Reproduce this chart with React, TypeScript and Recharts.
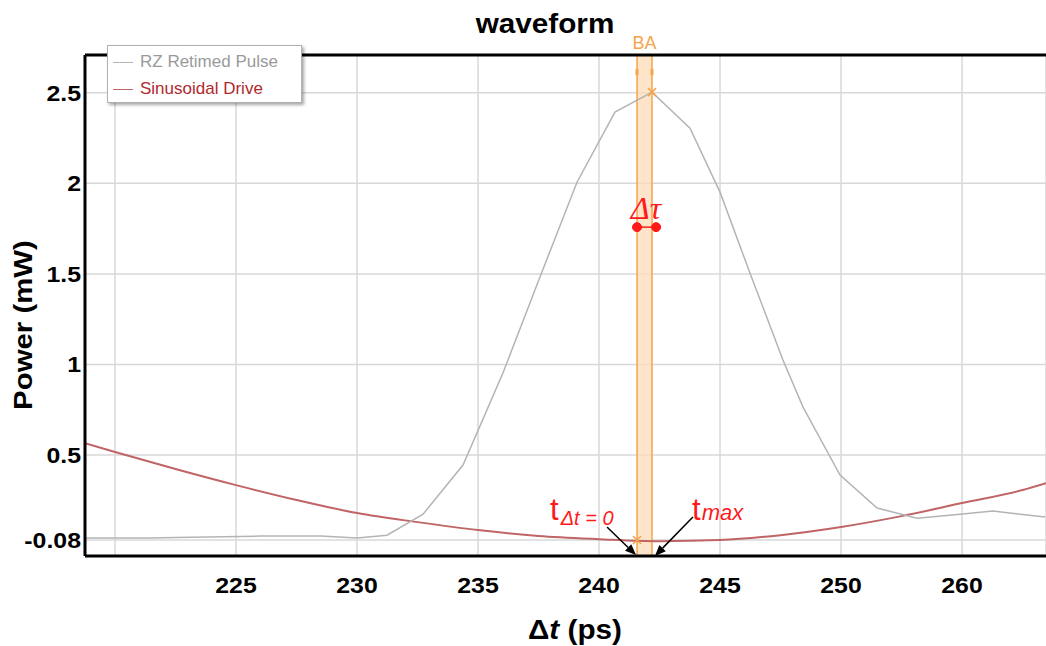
import React from 'react'
import { LineChart, Line, XAxis, YAxis, CartesianGrid, ReferenceArea, ReferenceLine, ReferenceDot } from 'recharts'

// RZ retimed pulse (gray): time in ps, power in mW
const PULSE_T = [218.76, 221.45, 222.5, 226.0, 228.5, 230.0, 231.24, 232.73, 234.38, 236.03, 237.64, 239.09, 240.66, 242.19, 243.76, 245.0, 246.24, 247.6, 248.43, 249.96, 251.49, 253.14, 254.92, 256.28, 258.43]
const PULSE_P = [0.042, 0.042, 0.045, 0.053, 0.053, 0.042, 0.058, 0.174, 0.445, 0.953, 1.51, 2.006, 2.393, 2.503, 2.304, 1.951, 1.504, 1.025, 0.765, 0.39, 0.208, 0.152, 0.174, 0.191, 0.158]

// sinusoidal drive (red)
const DRIVE_T = [218.76, 220, 222.5, 225, 227.5, 230, 232.5, 235, 237.5, 240, 242.5, 245, 247.5, 250, 252.5, 255, 257.5, 258.47]
const DRIVE_P = [0.566, 0.517, 0.423, 0.334, 0.252, 0.18, 0.13, 0.086, 0.053, 0.036, 0.025, 0.031, 0.058, 0.103, 0.163, 0.235, 0.307, 0.345]

const X_TICKS = [220, 225, 230, 235, 240, 245, 250, 255]
const X_LABELS = ['', '225', '230', '235', '240', '245', '250', '260']
const Y_TICKS = [0.031, 0.5, 1, 1.5, 2, 2.5]
const Y_LABELS = ['-0.08', '0.5', '1', '1.5', '2', '2.5']

const X_MIN = 218.76
const X_MAX = 258.47
const Y_MIN = -0.057
const Y_MAX = 2.708

// markers A / B and annotations
const MARK_B = 241.57
const MARK_A = 242.19
const DTAU = { t1: 241.57, t2: 242.36, p: 1.758 }

const ORANGE = '#f6a44c'
const RED = '#ff1a1a'
const FONT = '"Liberation Sans", Arial, sans-serif'
const SERIF = '"Liberation Serif", "DejaVu Serif", "Times New Roman", serif'

const pulse = PULSE_T.map((t, i) => ({ t, p: PULSE_P[i] }))
const drive = DRIVE_T.map((t, i) => ({ t, p: DRIVE_P[i] }))

function XTick({ x, y, payload }: any) {
  const label = X_LABELS[X_TICKS.indexOf(payload.value)]
  return (
    <text transform={`translate(${x},${y + 37}) scale(1.13,1)`} textAnchor="middle" fontFamily={FONT} fontWeight="bold" fontSize={22} fill="#000">{label}</text>
  )
}

function YTick({ x, y, payload }: any) {
  const label = Y_LABELS[Y_TICKS.indexOf(payload.value)]
  return (
    <text transform={`translate(${x - 4},${y + 8}) scale(1.13,1)`} textAnchor="end" fontFamily={FONT} fontWeight="bold" fontSize={22} fill="#000">{label}</text>
  )
}

function Arrow({ x1, y1, x2, y2 }: any) {
  const a = Math.atan2(y2 - y1, x2 - x1)
  const L = 11, W = 4.5
  const bx = x2 - L * Math.cos(a), by = y2 - L * Math.sin(a)
  const pts = `${x2},${y2} ${bx + W * Math.sin(a)},${by - W * Math.cos(a)} ${bx - W * Math.sin(a)},${by + W * Math.cos(a)}`
  return (
    <g>
      <line x1={x1} y1={y1} x2={bx} y2={by} stroke="#000" strokeWidth={1.5} />
      <polygon points={pts} fill="#000" />
    </g>
  )
}

function Cross({ cx, cy }: any) {
  return (
    <g stroke={ORANGE} strokeWidth={1.5}>
      <line x1={cx - 4} y1={cy - 4} x2={cx + 4} y2={cy + 4} />
      <line x1={cx - 4} y1={cy + 4} x2={cx + 4} y2={cy - 4} />
    </g>
  )
}

export default function App() {
  return (
    <div style={{ position: 'absolute', left: 0, top: 0, width: 1046, height: 646, background: '#fff', overflow: 'hidden' }}>
      <LineChart width={1046} height={646} margin={{ top: 55, right: 0, bottom: 0, left: 0 }}>
        <CartesianGrid stroke="#d8d8d8" strokeWidth={1.5} />
        <XAxis type="number" dataKey="t" domain={[X_MIN, X_MAX]} ticks={X_TICKS} allowDataOverflow height={90}
          tick={<XTick />} tickLine={false} tickSize={0} tickMargin={0} axisLine={{ stroke: '#000', strokeWidth: 3 }} />
        <YAxis type="number" domain={[Y_MIN, Y_MAX]} ticks={Y_TICKS} allowDataOverflow width={85}
          tick={<YTick />} tickLine={false} tickSize={0} tickMargin={0} axisLine={{ stroke: '#000', strokeWidth: 3 }} />

        <ReferenceArea x1={MARK_B} x2={MARK_A} y1={Y_MIN} y2={Y_MAX} fill="#fddcb8" fillOpacity={0.75} stroke="none" />
        <ReferenceLine x={MARK_B} stroke={ORANGE} strokeWidth={1.5} />
        <ReferenceLine x={MARK_A} stroke={ORANGE} strokeWidth={1.5} />
        <ReferenceLine y={Y_MAX} stroke="#000" strokeWidth={3} ifOverflow="visible" />

        <Line data={drive} dataKey="p" type="monotone" stroke="#c06466" strokeWidth={2} dot={false} isAnimationActive={false} />
        <Line data={pulse} dataKey="p" type="linear" stroke="#b4b4b4" strokeWidth={1.5} dot={false} isAnimationActive={false} />

        {/* marker label and ticks on the B/A lines */}
        <ReferenceDot x={(MARK_B + MARK_A) / 2} y={Y_MAX} ifOverflow="visible" shape={({ cx, cy }: any) => (
          <text x={cx} y={cy - 6} textAnchor="middle" fontFamily={FONT} fontSize={18} fill={ORANGE}>BA</text>
        )} />
        <ReferenceDot x={MARK_B} y={2.614} shape={({ cx, cy }: any) => <rect x={cx - 1.5} y={cy - 3} width={3} height={6} fill={ORANGE} />} />
        <ReferenceDot x={MARK_A} y={2.614} shape={({ cx, cy }: any) => <rect x={cx - 1.5} y={cy - 3} width={3} height={6} fill={ORANGE} />} />
        <ReferenceDot x={242.19} y={2.503} shape={<Cross />} />
        <ReferenceDot x={241.57} y={0.031} shape={<Cross />} />

        {/* Δτ dumbbell */}
        <ReferenceLine segment={[{ x: DTAU.t1, y: DTAU.p }, { x: DTAU.t2, y: DTAU.p }]} stroke={RED} strokeWidth={1.5} />
        <ReferenceDot x={DTAU.t1} y={DTAU.p} r={4.5} fill={RED} stroke={RED} />
        <ReferenceDot x={DTAU.t2} y={DTAU.p} r={4.5} fill={RED} stroke={RED} />
        <ReferenceDot x={241.94} y={1.802} shape={({ cx, cy }: any) => (
          <text x={cx} y={cy} textAnchor="middle" fontFamily={SERIF} fontStyle="italic" fontSize={32} fill={RED}>Δτ</text>
        )} />

        {/* t annotations with arrows */}
        <ReferenceLine segment={[{ x: 240.33, y: 0.103 }, { x: 241.53, y: -0.052 }]} ifOverflow="visible" shape={<Arrow />} />
        <ReferenceLine segment={[{ x: 243.88, y: 0.158 }, { x: 242.31, y: -0.057 }]} ifOverflow="visible" shape={<Arrow />} />
        <ReferenceDot x={237.975} y={0.141} shape={({ cx, cy }: any) => (
          <text x={cx} y={cy} fontFamily={FONT} fill={RED}>
            <tspan fontSize={31}>t</tspan>
            <tspan fontSize={20} fontStyle="italic" dx={2} dy={5}>Δt = 0</tspan>
          </text>
        )} />
        <ReferenceDot x={243.843} y={0.141} shape={({ cx, cy }: any) => (
          <text x={cx} y={cy} fontFamily={FONT} fill={RED}>
            <tspan fontSize={31}>t</tspan>
            <tspan fontSize={22} fontStyle="italic" dx={1}>max</tspan>
          </text>
        )} />
      </LineChart>

      {/* title */}
      <div style={{ position: 'absolute', left: 0, width: 1090, top: 9, textAlign: 'center', fontFamily: FONT, fontWeight: 'bold', fontSize: 27, lineHeight: '30px', transform: 'scaleX(1.1)', transformOrigin: '545px 0' }}>waveform</div>

      {/* y axis title */}
      <div style={{ position: 'absolute', left: 23, top: 325, transform: 'translate(-50%,-50%) rotate(-90deg) scaleX(1.13)', fontFamily: FONT, fontWeight: 'bold', fontSize: 26, whiteSpace: 'nowrap', lineHeight: '30px' }}>Power (mW)</div>

      {/* x axis title */}
      <div style={{ position: 'absolute', left: 575, top: 630, transform: 'translate(-50%,-50%) scaleX(1.1)', fontFamily: FONT, fontWeight: 'bold', fontSize: 27, whiteSpace: 'nowrap', lineHeight: '30px' }}>
        Δ<i>t</i> (ps)
      </div>

      {/* legend */}
      <div style={{ position: 'absolute', left: 107, top: 45, width: 193, height: 56, background: '#fff', border: '1px solid #b0b0b0', boxShadow: '2px 2px 3px rgba(0,0,0,0.35)', fontFamily: FONT, fontSize: 17 }}>
        {[
          { label: 'RZ Retimed Pulse', line: '#b4b4b4', color: '#9a9a9a' },
          { label: 'Sinusoidal Drive', line: '#c06466', color: '#b0282e' },
        ].map((s, i) => (
          <div key={s.label} style={{ position: 'absolute', left: 5, top: 5 + i * 27, height: 22, display: 'flex', alignItems: 'center' }}>
            <span style={{ display: 'inline-block', width: 20, height: 0, borderTop: `1.5px solid ${s.line}`, marginRight: 7 }} />
            <span style={{ color: s.color, whiteSpace: 'nowrap' }}>{s.label}</span>
          </div>
        ))}
      </div>
    </div>
  )
}
